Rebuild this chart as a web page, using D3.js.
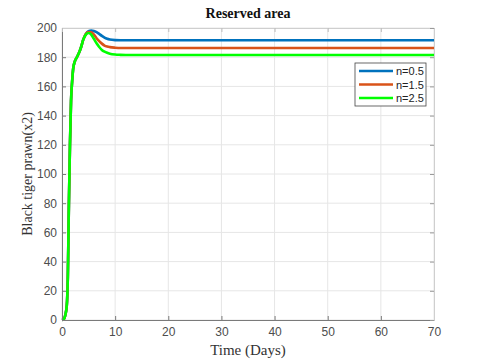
<!DOCTYPE html>
<html>
<head>
<meta charset="utf-8">
<script src="https://cdn.jsdelivr.net/npm/d3@7"></script>
<style>
  body { margin: 0; background: #fff; }
  svg { display: block; }
  .tick text { font-family: Arial, "Liberation Sans", sans-serif; font-size: 12px; fill: #4d4d4d; }
</style>
</head>
<body>
<script>
// Chart size
const width = 480;
const height = 360;

// Data
const seriesNames = ["n=0.5", "n=1.5", "n=2.5"];
const seriesColors = ["#0072BD", "#D95319", "#00FF00"];
const timeDays = [0, 0.3, 0.6, 0.9, 1.1, 1.3, 1.5, 1.7, 1.9, 2.1, 2.4, 2.8, 3.2, 3.6, 4.0, 4.5, 5.0, 5.5, 6.0, 6.5, 7.0, 7.5, 8.0, 8.5, 9.0, 10, 11, 12, 15, 20, 30, 40, 50, 60, 70];
const prawnN05 = [0, 0.5, 3, 10, 30, 80, 120, 150, 163, 172, 177, 180, 183, 187, 192, 196, 197.8, 198.3, 198, 197.2, 196, 194.6, 193.4, 192.6, 192.1, 191.7, 191.6, 191.6, 191.6, 191.6, 191.6, 191.6, 191.6, 191.6, 191.6];
const prawnN15 = [0, 0.5, 3, 10, 30, 80, 120, 150, 163, 172, 177, 180, 183, 187, 192, 196, 197.2, 197, 195.5, 193, 191, 189.3, 188, 187.3, 186.9, 186.5, 186.3, 186.3, 186.3, 186.3, 186.3, 186.3, 186.3, 186.3, 186.3];
const prawnN25 = [0, 0.5, 3, 10, 30, 80, 120, 150, 163, 172, 177, 180, 183, 187, 192, 195.5, 196.6, 195.5, 192.5, 189.5, 187, 185, 183.8, 183, 182.4, 181.8, 181.6, 181.5, 181.5, 181.5, 181.5, 181.5, 181.5, 181.5, 181.5];
const seriesValues = [prawnN05, prawnN15, prawnN25];
const xTicks = [0, 10, 20, 30, 40, 50, 60, 70];
const yTicks = [0, 20, 40, 60, 80, 100, 120, 140, 160, 180, 200];

const margin = { top: 28, right: 46, bottom: 40, left: 62 };
const innerW = width - margin.left - margin.right;
const innerH = height - margin.top - margin.bottom;

const svg = d3.select("body").append("svg")
  .attr("width", width)
  .attr("height", height);

const g = svg.append("g")
  .attr("transform", `translate(${margin.left},${margin.top})`);

const x = d3.scaleLinear().domain([0, 70]).range([0, innerW]);
const y = d3.scaleLinear().domain([0, 200]).range([innerH, 0]);

// Grid lines
g.append("g").selectAll("line").data(xTicks).enter().append("line")
  .attr("x1", d => x(d)).attr("x2", d => x(d))
  .attr("y1", 0).attr("y2", innerH)
  .attr("stroke", "#e6e6e6").attr("stroke-width", 1);
g.append("g").selectAll("line").data(yTicks).enter().append("line")
  .attr("y1", d => y(d)).attr("y2", d => y(d))
  .attr("x1", 0).attr("x2", innerW)
  .attr("stroke", "#e6e6e6").attr("stroke-width", 1);

// Lines
const line = d3.line()
  .x(d => x(d[0]))
  .y(d => y(d[1]))
  .curve(d3.curveMonotoneX);

seriesValues.forEach((vals, i) => {
  g.append("path")
    .datum(timeDays.map((t, j) => [t, vals[j]]))
    .attr("fill", "none")
    .attr("stroke", seriesColors[i])
    .attr("stroke-width", 2.6)
    .attr("d", line);
});

// Axes with inward ticks on all four sides
const axisColor = "#7a7a7a";
const xAxis = g.append("g").attr("transform", `translate(0,${innerH})`)
  .call(d3.axisBottom(x).tickValues(xTicks).tickSizeInner(-4).tickSizeOuter(0).tickPadding(7));
const yAxis = g.append("g")
  .call(d3.axisLeft(y).tickValues(yTicks).tickSizeInner(-4).tickSizeOuter(0).tickPadding(5));
const xTop = g.append("g")
  .call(d3.axisTop(x).tickValues(xTicks).tickSizeInner(-4).tickSizeOuter(0).tickFormat(""));
const yRight = g.append("g").attr("transform", `translate(${innerW},0)`)
  .call(d3.axisRight(y).tickValues(yTicks).tickSizeInner(-4).tickSizeOuter(0).tickFormat(""));
[xAxis, yAxis, xTop, yRight].forEach(a => {
  a.selectAll("path").attr("stroke", axisColor);
  a.selectAll("line").attr("stroke", axisColor);
});
xTop.select("path").attr("stroke", "#cfcfcf");
xTop.selectAll("line").attr("stroke", "#bdbdbd");
yRight.select("path").attr("stroke", "#cfcfcf");
yRight.selectAll("line").attr("stroke", "#9a9a9a");

// Title and labels
svg.append("text")
  .attr("x", margin.left + innerW / 2).attr("y", 18)
  .attr("text-anchor", "middle")
  .style("font-family", "'Times New Roman', 'Liberation Serif', serif")
  .style("font-weight", "bold").style("font-size", "14px")
  .attr("fill", "#111")
  .text("Reserved area");

svg.append("text")
  .attr("x", margin.left + innerW / 2).attr("y", 355)
  .attr("text-anchor", "middle")
  .style("font-family", "'Times New Roman', 'Liberation Serif', serif")
  .style("font-size", "15px")
  .attr("fill", "#333")
  .text("Time (Days)");

svg.append("text")
  .attr("transform", `translate(32,${margin.top + innerH / 2}) rotate(-90)`)
  .attr("text-anchor", "middle")
  .style("font-family", "'Times New Roman', 'Liberation Serif', serif")
  .style("font-size", "14px")
  .attr("fill", "#333")
  .text("Black tiger prawn(x2)");

// Legend
const legend = svg.append("g").attr("transform", "translate(355,63)");
legend.append("rect")
  .attr("width", 71).attr("height", 43)
  .attr("fill", "#fff").attr("stroke", "#444").attr("stroke-width", 0.8);
seriesNames.forEach((name, i) => {
  const ly = 8 + i * 13.5;
  legend.append("line")
    .attr("x1", 4).attr("x2", 38).attr("y1", ly).attr("y2", ly)
    .attr("stroke", seriesColors[i]).attr("stroke-width", 2.6);
  legend.append("text")
    .attr("x", 41).attr("y", ly + 4)
    .style("font-family", "Arial, 'Liberation Sans', sans-serif")
    .style("font-size", "11px")
    .attr("fill", "#222")
    .text(name);
});
</script>
</body>
</html>
